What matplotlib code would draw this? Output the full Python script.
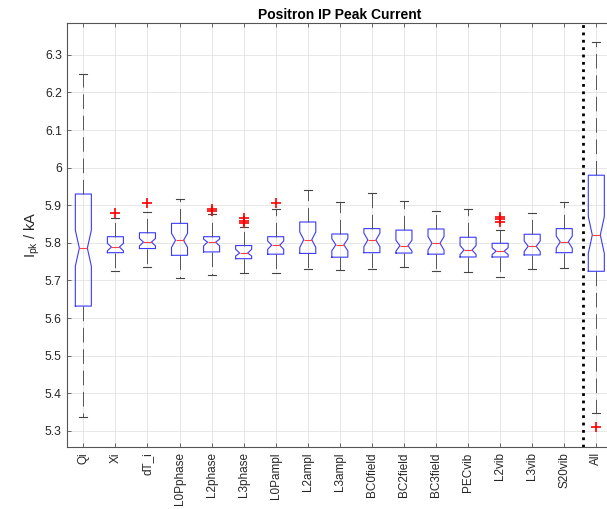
import matplotlib
matplotlib.use("Agg")
import matplotlib.pyplot as plt
from matplotlib.ticker import FuncFormatter

plt.rcParams['font.family'] = ['Liberation Sans', 'DejaVu Sans']
plt.rcParams['mathtext.fontset'] = 'custom'
plt.rcParams['mathtext.rm'] = 'Liberation Sans'

# values (kA)
labels = ['Qi', 'Xi', 'dT_i', 'L0Pphase', 'L2phase', 'L3phase', 'L0Pampl', 'L2ampl',
          'L3ampl', 'BC0field', 'BC2field', 'BC3field', 'PECvib', 'L2vib', 'L3vib',
          'S20vib', 'All']
medians = [5.786, 5.789, 5.802, 5.807, 5.802, 5.773, 5.794, 5.8085, 5.795, 5.8077,
           5.7926, 5.799, 5.781, 5.778, 5.791, 5.8024, 5.821]
q1 = [5.632, 5.774, 5.785, 5.767, 5.776, 5.758, 5.770, 5.772, 5.762, 5.774,
      5.773, 5.770, 5.7625, 5.7625, 5.768, 5.774, 5.7245]
q3 = [5.930, 5.8165, 5.827, 5.852, 5.8165, 5.793, 5.8165, 5.8556, 5.8237, 5.838,
      5.834, 5.837, 5.815, 5.799, 5.823, 5.838, 5.980]
whisk_lo = [5.338, 5.724, 5.737, 5.706, 5.715, 5.719, 5.719, 5.730, 5.728, 5.7306,
            5.737, 5.726, 5.722, 5.710, 5.7306, 5.733, 5.348]
whisk_hi = [6.249, 5.866, 5.883, 5.918, 5.877, 5.841, 5.889, 5.940, 5.908, 5.932,
            5.911, 5.884, 5.891, 5.835, 5.8795, 5.909, 6.335]
notch_lo = [5.738, 5.779, 5.792, 5.788, 5.792, 5.765, 5.783, 5.788, 5.779, 5.790,
            5.778, 5.781, 5.769, 5.769, 5.777, 5.786, 5.772]
notch_hi = [5.834, 5.799, 5.812, 5.8255, 5.810, 5.783, 5.805, 5.829, 5.811, 5.826,
            5.807, 5.817, 5.793, 5.787, 5.805, 5.818, 5.870]
outliers = [[], [5.879], [5.905], [], [5.885, 5.889], [5.8655, 5.859, 5.852], [5.907],
            [], [], [], [], [], [], [5.870, 5.8636, 5.856], [], [], [5.310]]

positions = list(range(1, len(labels) + 1))
separator = 16.6

stats = []
for i in range(len(labels)):
    stats.append(dict(med=medians[i], q1=q1[i], q3=q3[i], whislo=whisk_lo[i],
                      whishi=whisk_hi[i], cilo=notch_lo[i], cihi=notch_hi[i],
                      fliers=outliers[i]))

fig = plt.figure(figsize=(6.07, 5.09), dpi=100)
ax = fig.add_axes([0.1109, 0.1224, 0.8979, 0.833])

ax.grid(True, color='#e3e3e3', linewidth=0.6, zorder=0)
ax.set_axisbelow(True)

ax.bxp(stats, positions=positions, widths=0.5, shownotches=True,
       boxprops=dict(color='#3a3aff', linewidth=0.8),
       medianprops=dict(color='#ff4040', linewidth=0.8),
       whiskerprops=dict(color='#555555', linewidth=0.7, linestyle=(0, (15, 7))),
       capprops=dict(color='#444444', linewidth=0.8),
       flierprops=dict(marker='+', markeredgecolor='red', markersize=7,
                       markeredgewidth=1.2, linestyle='none'))

ax.axvline(separator, color='black', linestyle=':', linewidth=2)

ax.set_xlim(0.5, 17.5)
ax.set_ylim(5.258, 6.3856)
ax.set_xticks(positions)
ax.set_xticklabels(labels, rotation=90, fontsize=8.5, color='#262626')
ax.set_yticks([5.3 + 0.1 * k for k in range(11)])
ax.yaxis.set_major_formatter(FuncFormatter(lambda v, p: '%g' % round(v, 1)))
ax.tick_params(axis='y', labelsize=8.7, labelcolor='#262626', pad=4)
ax.tick_params(axis='x', pad=4)
ax.tick_params(direction='in', length=3, width=0.6, color='#555555',
               top=True, right=True)
for s in ax.spines.values():
    s.set_color('#555555')
    s.set_linewidth(0.8)

ax.set_ylabel(r'I$_{\mathrm{pk}}$ / kA', fontsize=10.5, color='#262626', labelpad=2)
ax.set_title('Positron IP Peak Current', fontsize=10, fontweight='bold',
             color='black', pad=3)

fig.savefig('out.png', dpi=100)
